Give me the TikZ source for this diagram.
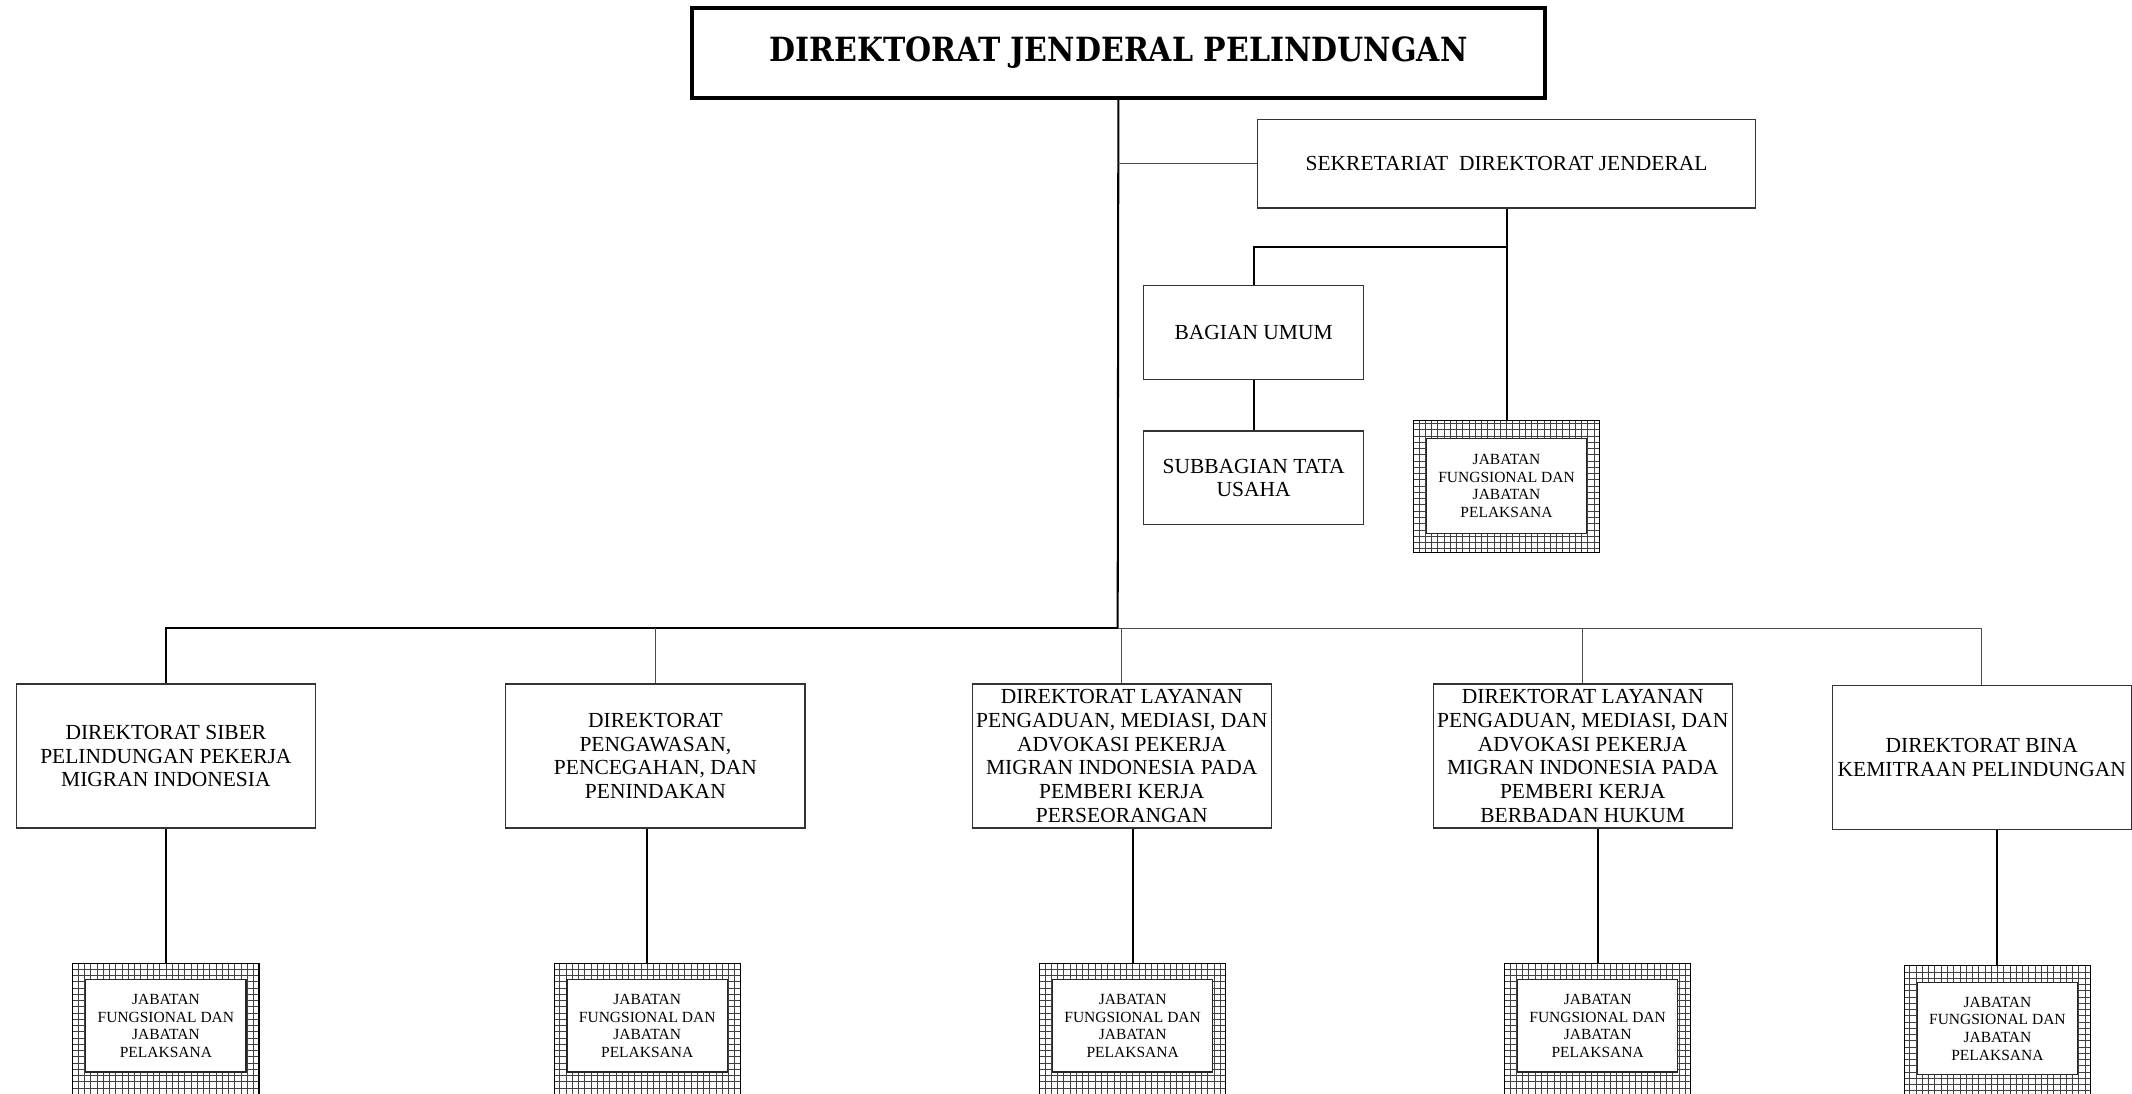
\documentclass[tikz,border=0pt]{standalone}
\usepackage{fontspec}
\setmainfont{Liberation Serif}
\newfontfamily\titlefont{DejaVu Serif}
\begin{document}
\begin{tikzpicture}[x=1pt,y=-1pt,
  titlebox/.style={draw=black, line width=3pt, fill=white, inner sep=0pt, minimum width=627pt, minimum height=66pt,
    font=\titlefont\bfseries\fontsize{24.5}{28}\selectfont},
  unitbox/.style={draw=black!80, line width=0.9pt, fill=white, inner sep=0pt, align=center,
    font=\fontsize{15.8}{17.5}\selectfont},
  dirbox/.style={unitbox, minimum width=220pt, minimum height=106pt},
  jabout/.style={draw=black, line width=0.8pt, inner sep=0pt, minimum width=137pt,
    path picture={\draw[black!75, line width=0.55pt, step=4.6pt]
      ([shift={(-6pt,-6pt)}]path picture bounding box.south west) grid ([shift={(6pt,6pt)}]path picture bounding box.north east);}},
  jabin/.style={draw=black!85, line width=0.9pt, fill=white, inner sep=0pt, align=center,
    minimum width=118pt, font=\fontsize{11.4}{13}\selectfont},
  conn/.style={draw=black, line width=1.5pt},
  thinconn/.style={draw=black!70, line width=0.9pt}
]
\useasboundingbox (0,0) rectangle (1568,804);
\fill[white] (0,0) rectangle (1568,804);

% top
\node[titlebox] (dj) at (822.5,39) {\scalebox{0.9}[1]{DIREKTORAT JENDERAL PELINDUNGAN}};
\node[unitbox, minimum width=366pt, minimum height=65pt] (sek) at (1108,120.5) {SEKRETARIAT\ \ DIREKTORAT JENDERAL};
\node[unitbox, minimum width=162pt, minimum height=69pt] (bu) at (922,244.5) {BAGIAN UMUM};
\node[unitbox, minimum width=162pt, minimum height=69pt] (sb) at (922,351.5) {SUBBAGIAN TATA\\USAHA};
\node[jabout, minimum height=97pt] (hs) at (1108,357.5) {};
\node[jabin, minimum height=70pt] (hsi) at (hs) {JABATAN\\FUNGSIONAL DAN\\JABATAN\\PELAKSANA};

\coordinate (bus) at (822,462);
\coordinate (sj) at (1108,182);

% directorates
\node[dirbox] (d1) at (122,556) {DIREKTORAT SIBER\\PELINDUNGAN PEKERJA\\MIGRAN INDONESIA};
\node[dirbox] (d2) at (482,556) {DIREKTORAT\\PENGAWASAN,\\PENCEGAHAN, DAN\\PENINDAKAN};
\node[dirbox] (d3) at (825,556) {DIREKTORAT LAYANAN\\PENGADUAN, MEDIASI, DAN\\ADVOKASI PEKERJA\\MIGRAN INDONESIA PADA\\PEMBERI KERJA\\PERSEORANGAN};
\node[dirbox] (d4) at (1164,556) {DIREKTORAT LAYANAN\\PENGADUAN, MEDIASI, DAN\\ADVOKASI PEKERJA\\MIGRAN INDONESIA PADA\\PEMBERI KERJA\\BERBADAN HUKUM};
\node[dirbox] (d5) at (1457.5,557) {DIREKTORAT BINA\\KEMITRAAN PELINDUNGAN};

% bottom functional boxes
\foreach \n/\x/\t in {1/122/708, 2/476/708, 3/833/708, 4/1175/708, 5/1469/710}{
  \node[jabout, minimum height=110pt, anchor=north] (h\n) at (\x,\t) {};
  \node[jabin, minimum height=68pt, anchor=north] (h\n i) at ([yshift=-12pt]h\n.north) {JABATAN\\FUNGSIONAL DAN\\JABATAN\\PELAKSANA};
}

% connectors
\draw[conn] (dj.south) -- (bus);
\draw[thinconn] (sek.west) -- (sek.west -| dj.south);
\draw[conn] (sek.south) -- (hs.north);
\draw[conn] (sj) -| (bu.north);
\draw[conn] (bu.south) -- (sb.north);
\draw[conn] (bus) -| (d1.north);
\draw[thinconn] (bus) -| (d5.north);
\draw[thinconn] (d2.north) -- (d2.north |- bus);
\draw[thinconn] (d3.north) -- (d3.north |- bus);
\draw[thinconn] (d4.north) -- (d4.north |- bus);
\foreach \n in {1,...,5}{
  \draw[conn] (d\n.south -| h\n.north) -- (h\n.north);
}
\end{tikzpicture}
\end{document}
